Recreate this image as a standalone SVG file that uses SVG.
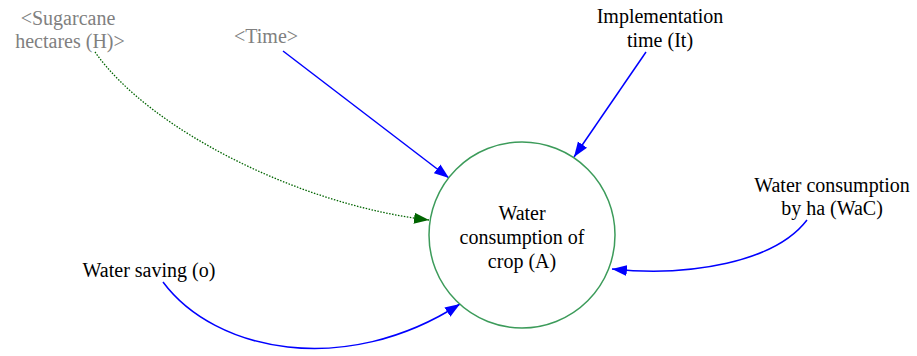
<svg xmlns="http://www.w3.org/2000/svg" width="917" height="356" viewBox="0 0 917 356">
<style>
text{font-family:'Liberation Serif','Times New Roman',Times,serif;font-size:20px;text-anchor:middle;fill:#000}
.shadow{fill:#808080}
.blue{fill:none;stroke:#0000ff;stroke-width:1.5}
.green{fill:none;stroke:#006400;stroke-width:1.3;stroke-dasharray:1.5 1.5}
</style>
<defs>
<marker id="ab" markerUnits="userSpaceOnUse" markerWidth="16" markerHeight="12" refX="15" refY="6" orient="auto"><path d="M0,0.5 L15,6 L0,11.5 z" fill="#0000ff"/></marker>
<marker id="ag" markerUnits="userSpaceOnUse" markerWidth="16" markerHeight="12" refX="15" refY="6" orient="auto"><path d="M0,0.5 L15,6 L0,11.5 z" fill="#006400"/></marker>
</defs>
<rect width="917" height="356" fill="#fff"/>
<g id="connectors">
<path class="green" d="M95,52 C150,130 300,205 429,220" marker-end="url(#ag)"/>
<path class="blue" d="M283,51 L449,178" marker-end="url(#ab)"/>
<path class="blue" d="M646,52 L574,157" marker-end="url(#ab)"/>
<path class="blue" d="M807,220 C775,262 690,277 612,269" marker-end="url(#ab)"/>
<path class="blue" d="M163,282 C215,352 345,378 460,304" marker-end="url(#ab)"/>
</g>
<g id="A">
<circle cx="522" cy="235" r="93" fill="#fff" stroke="#3c9b5a" stroke-width="1.5"/>
<text x="522" y="220">Water</text>
<text x="522" y="244">consumption of</text>
<text x="522" y="268">crop (A)</text>
</g>
<g id="H">
<text class="shadow" x="68" y="25">&lt;Sugarcane</text>
<text class="shadow" x="70" y="48">hectares (H)&gt;</text>
</g>
<g id="Time">
<text class="shadow" x="266" y="43">&lt;Time&gt;</text>
</g>
<g id="It">
<text x="660" y="23">Implementation</text>
<text x="660" y="47">time (It)</text>
</g>
<g id="WaC">
<text x="832" y="192">Water consumption</text>
<text x="832" y="215">by ha (WaC)</text>
</g>
<g id="o">
<text x="149" y="277">Water saving (o)</text>
</g>
</svg>
